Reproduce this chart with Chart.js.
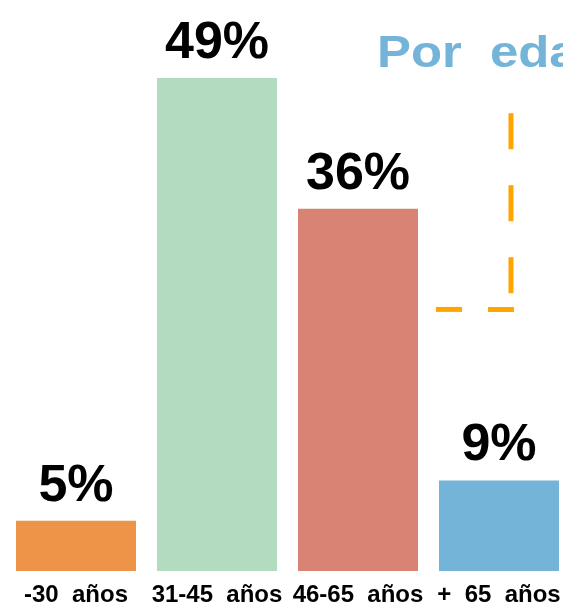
<!DOCTYPE html>
<html>
<head>
<meta charset="utf-8">
<script src="https://cdn.jsdelivr.net/npm/chart.js@4"></script>
<style>
  html, body { margin:0; padding:0; background:#fff; overflow:hidden; }
  #wrap { position:absolute; left:0; top:0; width:575px; height:605px; }
</style>
</head>
<body>
<div id="wrap"><canvas id="ageChart"></canvas></div>
<script>
// —––– Datos ––––
const categories = ['-30  años', '31-45  años', '46-65  años', '+  65  años'];
const shares = [5, 49, 36, 9];
const barColors = ['#EE9449', '#B3DBBF', '#D98375', '#73B4D8'];
const titleText = 'Por  edad';

// Línea discontinua decorativa (en unidades de los ejes)
const bracketVert = [{ x:3.085, y:45.5 }, { x:3.085, y:26 }];
const bracketHoriz = [{ x:2.553, y:26 }, { x:3.106, y:26 }];

const FONT = '"Liberation Sans", Arial, sans-serif';

// Etiquetas de valor encima de cada barra
const valueLabels = {
  id: 'valueLabels',
  afterDatasetsDraw(chart) {
    const ctx = chart.ctx;
    const meta = chart.getDatasetMeta(0);
    ctx.save();
    ctx.font = 'bold 52px ' + FONT;
    ctx.fillStyle = '#000';
    ctx.textAlign = 'center';
    ctx.textBaseline = 'alphabetic';
    meta.data.forEach((bar, i) => {
      ctx.fillText(shares[i] + '%', bar.x, bar.y - 20);
    });
    ctx.restore();
  }
};

// Título recortado arriba a la derecha (algo estirado en horizontal)
const cornerTitle = {
  id: 'cornerTitle',
  afterDraw(chart) {
    const ctx = chart.ctx;
    ctx.save();
    ctx.font = 'bold 45px ' + FONT;
    ctx.fillStyle = '#73B4D8';
    ctx.textAlign = 'left';
    ctx.textBaseline = 'alphabetic';
    ctx.translate(377, 67);
    ctx.scale(1.13, 1);
    ctx.fillText(titleText, 0, 0);
    ctx.restore();
  }
};

const ctx = document.getElementById('ageChart').getContext('2d');
new Chart(ctx, {
  type: 'bar',
  data: {
    labels: categories,
    datasets: [
      {
        data: shares,
        backgroundColor: barColors,
        borderWidth: 0,
        grouped: false,
        barPercentage: 120 / 141,
        categoryPercentage: 1
      },
      {
        type: 'line',
        xAxisID: 'x2',
        data: bracketVert,
        borderColor: '#FFA500',
        borderWidth: 5,
        borderDash: [36, 36],
        borderCapStyle: 'butt',
        pointRadius: 0,
        fill: false,
        tension: 0
      },
      {
        type: 'line',
        xAxisID: 'x2',
        data: bracketHoriz,
        borderColor: '#FFA500',
        borderWidth: 5,
        borderDash: [26, 26],
        borderCapStyle: 'butt',
        pointRadius: 0,
        fill: false,
        tension: 0
      }
    ]
  },
  options: {
    responsive: true,
    maintainAspectRatio: false,
    animation: false,
    layout: { padding: { left: 5.5, right: 5.5, top: 78, bottom: 0 } },
    plugins: {
      legend: { display: false },
      tooltip: { enabled: false },
      title: { display: false }
    },
    scales: {
      x: {
        grid: { display: false, drawTicks: false },
        border: { display: false },
        ticks: {
          color: '#000',
          padding: 10,
          font: { family: FONT, size: 24, weight: 'bold' },
          maxRotation: 0,
          autoSkip: false
        },
        afterFit: s => { s.height = 34; }
      },
      x2: {
        type: 'linear',
        display: false,
        offset: false,
        grid: { offset: false },
        min: -0.5,
        max: 3.5
      },
      y: {
        display: false,
        min: 0,
        max: 49
      }
    }
  },
  plugins: [valueLabels, cornerTitle]
});
</script>
</body>
</html>
